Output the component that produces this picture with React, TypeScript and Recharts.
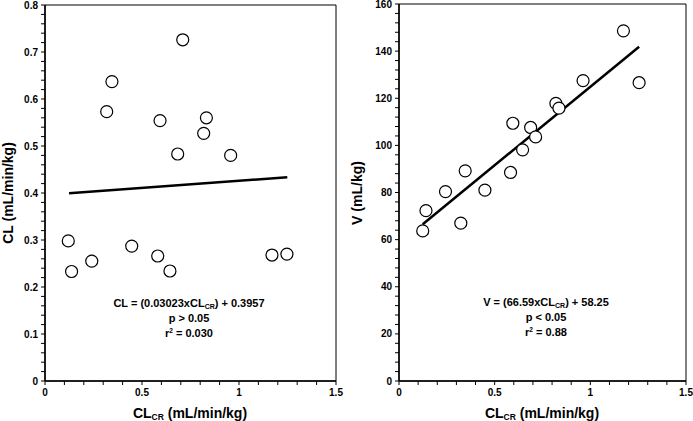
import { ScatterChart, Scatter, XAxis, YAxis, ReferenceArea, Customized } from 'recharts';

// CLcr vs CL (left panel)
const clcrLeft = [0.71, 0.345, 0.318, 0.593, 0.832, 0.818, 0.684, 0.957, 0.12, 0.137, 0.241, 0.447, 0.581, 0.644, 1.17, 1.247];
const clValues = [0.726, 0.637, 0.573, 0.554, 0.56, 0.527, 0.483, 0.48, 0.298, 0.233, 0.255, 0.287, 0.266, 0.234, 0.268, 0.27];

// CLcr vs V (right panel)
const clcrRight = [1.173, 1.255, 0.962, 0.82, 0.836, 0.595, 0.688, 0.714, 0.646, 0.583, 0.346, 0.243, 0.449, 0.141, 0.124, 0.323];
const vValues = [148.6, 126.6, 127.5, 117.8, 115.8, 109.4, 107.6, 103.6, 98.1, 88.5, 89.2, 80.4, 81.0, 72.3, 63.7, 67.0];

// regression fits
const clSlope = 0.03023;
const clIntercept = 0.3957;
const vSlope = 66.59;
const vIntercept = 58.25;
const fitRangeLeft = [0.124, 1.249];
const fitRangeRight = [0.124, 1.255];

// tick labels
const xMajor = [0, 0.5, 1, 1.5];
const xMajorLabels = ['0', '0.5', '1', '1.5'];
const clMajor = [0, 0.1, 0.2, 0.3, 0.4, 0.5, 0.6, 0.7, 0.8];
const clMajorLabels = ['0', '0.1', '0.2', '0.3', '0.4', '0.5', '0.6', '0.7', '0.8'];
const vMajor = [0, 20, 40, 60, 80, 100, 120, 140, 160];
const vMajorLabels = ['0', '20', '40', '60', '80', '100', '120', '140', '160'];

const FONT = "Arial, 'Liberation Sans', Helvetica, sans-serif";

const steps = (max: number, step: number) => {
  const out: number[] = [];
  const n = Math.round(max / step);
  for (let i = 0; i <= n; i++) out.push(Math.round(i * step * 1000) / 1000);
  return out;
};

const makeTick = (majors: number[], labels: string[], axis: 'x' | 'y') => (props: any) => {
  const { x, y, payload } = props;
  const idx = majors.findIndex((m) => Math.abs(m - payload.value) < 1e-9);
  if (idx < 0) return <g />;
  if (axis === 'x') {
    return (
      <text x={x} y={y} dy="0.71em" textAnchor="middle" fontSize={10} fontWeight="bold" fontFamily={FONT} fill="#000">
        {labels[idx]}
      </text>
    );
  }
  return (
    <text x={x} y={y} dy="0.36em" textAnchor="end" fontSize={10} fontWeight="bold" fontFamily={FONT} fill="#000">
      {labels[idx]}
    </text>
  );
};

const circle = (p: any) => <circle cx={p.cx} cy={p.cy} r={6} fill="#fff" stroke="#000" strokeWidth={1.2} />;
const noDot = () => <g />;

const txt = { fontFamily: FONT, fontWeight: 'bold' as const, fill: '#000' };

const XTitle = ({ cx }: { cx: number }) => (
  <text x={cx} y={418} textAnchor="middle" fontSize={14} {...txt}>
    CL<tspan fontSize={8.5} dy={2}>CR</tspan>
    <tspan dy={-2}> (mL/min/kg)</tspan>
  </text>
);

const YTitle = ({ x, y, label }: { x: number; y: number; label: string }) => (
  <text x={x} y={y} dy="0.36em" textAnchor="middle" fontSize={14} transform={`rotate(-90, ${x}, ${y})`} {...txt}>
    {label}
  </text>
);

const Notes = ({ cx, y0, lead, rest, p, r2 }: any) => (
  <g>
    <text x={cx} y={y0} textAnchor="middle" fontSize={11} {...txt}>
      {lead}CL<tspan fontSize={7} dy={1.5}>CR</tspan>
      <tspan dy={-1.5}>{rest}</tspan>
    </text>
    <text x={cx} y={y0 + 15} textAnchor="middle" fontSize={11} {...txt}>
      {p}
    </text>
    <text x={cx} y={y0 + 30} textAnchor="middle" fontSize={11} {...txt}>
      r<tspan fontSize={6.5} dy={-4}>2</tspan>
      <tspan dy={4}>{r2}</tspan>
    </text>
  </g>
);

const LeftText = () => (
  <g>
    <YTitle x={8} y={193} label="CL (mL/min/kg)" />
    <XTitle cx={190} />
    <Notes cx={189} y0={307} lead="CL = (0.03023x" rest=") + 0.3957" p="p > 0.05" r2=" = 0.030" />
  </g>
);

const RightText = () => (
  <g>
    <YTitle x={11} y={193} label="V (mL/kg)" />
    <XTitle cx={196} />
    <Notes cx={200} y0={306} lead="V = (66.59x" rest=") + 58.25" p="p < 0.05" r2=" = 0.88" />
  </g>
);

export default function App() {
  const leftPoints = clcrLeft.map((x, i) => ({ x, y: clValues[i] }));
  const rightPoints = clcrRight.map((x, i) => ({ x, y: vValues[i] }));
  const leftFit = fitRangeLeft.map((x) => ({ x, y: clSlope * x + clIntercept }));
  const rightFit = fitRangeRight.map((x) => ({ x, y: vSlope * x + vIntercept }));

  const xTicks = steps(1.5, 0.1);
  const axisLine = { stroke: '#000', strokeWidth: 1.5 };
  const tickLine = { stroke: '#000', strokeWidth: 1 };

  return (
    <div style={{ position: 'absolute', left: 0, top: 0, width: 693, height: 421, background: '#fff' }}>
      <div style={{ position: 'absolute', left: 0, top: 0 }}>
        <ScatterChart width={346} height={421} margin={{ top: 5, right: 10, bottom: 0, left: 0 }}>
          <XAxis type="number" dataKey="x" domain={[0, 1.5]} ticks={xTicks} interval={0} height={40}
            axisLine={axisLine} tickLine={tickLine} tickSize={4} tickMargin={4}
            tick={makeTick(xMajor, xMajorLabels, 'x')} allowDataOverflow />
          <YAxis type="number" dataKey="y" domain={[0, 0.8]} ticks={steps(0.8, 0.02)} interval={0} width={45}
            axisLine={axisLine} tickLine={tickLine} tickSize={4} tickMargin={3}
            tick={makeTick(clMajor, clMajorLabels, 'y')} allowDataOverflow />
          <ReferenceArea x1={0} x2={1.5} y1={0} y2={0.8} fill="none" stroke="#000" strokeWidth={1} />
          <Scatter data={leftFit} line={{ stroke: '#000', strokeWidth: 2.5 }} shape={noDot} isAnimationActive={false} />
          <Scatter data={leftPoints} shape={circle} isAnimationActive={false} />
          <Customized component={LeftText} />
        </ScatterChart>
      </div>
      <div style={{ position: 'absolute', left: 346, top: 0 }}>
        <ScatterChart width={347} height={421} margin={{ top: 4, right: 7, bottom: 0, left: 0 }}>
          <XAxis type="number" dataKey="x" domain={[0, 1.5]} ticks={xTicks} interval={0} height={40}
            axisLine={axisLine} tickLine={tickLine} tickSize={4} tickMargin={4}
            tick={makeTick(xMajor, xMajorLabels, 'x')} allowDataOverflow />
          <YAxis type="number" dataKey="y" domain={[0, 160]} ticks={steps(160, 4)} interval={0} width={53}
            axisLine={axisLine} tickLine={tickLine} tickSize={4} tickMargin={3}
            tick={makeTick(vMajor, vMajorLabels, 'y')} allowDataOverflow />
          <ReferenceArea x1={0} x2={1.5} y1={0} y2={160} fill="none" stroke="#000" strokeWidth={1} />
          <Scatter data={rightFit} line={{ stroke: '#000', strokeWidth: 2.5 }} shape={noDot} isAnimationActive={false} />
          <Scatter data={rightPoints} shape={circle} isAnimationActive={false} />
          <Customized component={RightText} />
        </ScatterChart>
      </div>
    </div>
  );
}
